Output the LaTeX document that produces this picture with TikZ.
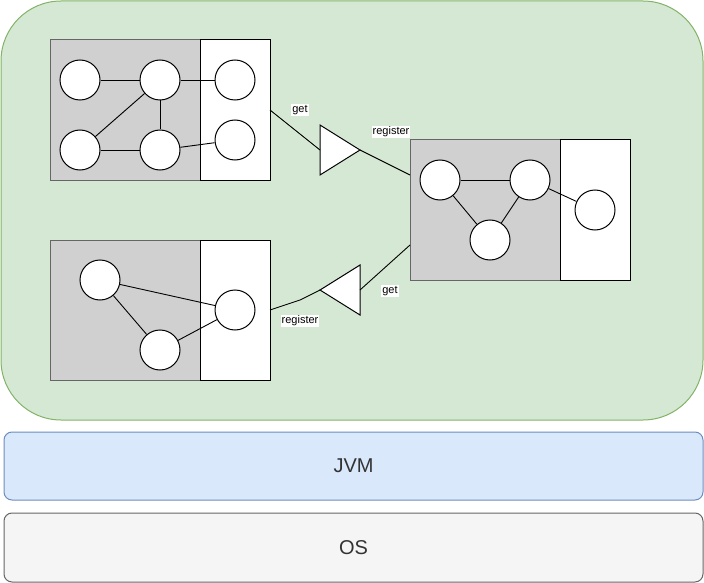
\documentclass[tikz,border=0pt]{standalone}
\usepackage{fontspec}
\setmainfont{Liberation Sans}
\definecolor{grnfill}{HTML}{D5E8D4}
\definecolor{grnline}{HTML}{82B366}
\definecolor{bluefill}{HTML}{DAE8FC}
\definecolor{blueline}{HTML}{6C8EBF}
\definecolor{osfill}{HTML}{F5F5F5}
\definecolor{osline}{HTML}{666666}
\definecolor{bundlegray}{HTML}{D0D0D0}
\definecolor{txt}{HTML}{333333}
\tikzset{
  gbox/.style={draw=osline, fill=bundlegray, line width=1pt},
  wbox/.style={draw=black, fill=white, line width=1pt},
  svc/.style={circle, draw=black, fill=white, line width=1pt, minimum size=40pt, inner sep=0pt},
  link/.style={draw=black, line width=0.9pt},
  tri/.style={draw=black, fill=white, line width=1pt},
  lbl/.style={fill=white, inner sep=1pt, font=\fontsize{11}{13}\selectfont},
  layer/.style={rounded corners=8pt, line width=1pt, text=txt, font=\fontsize{20}{24}\selectfont},
}
\begin{document}
\begin{tikzpicture}[x=1pt,y=-1pt]
\useasboundingbox (0,0) rectangle (704,583);
% container
\draw[fill=grnfill, draw=grnline, line width=1pt, rounded corners=60pt] (1,1) rectangle (703,420);
% layers
\node[layer, draw=blueline, fill=bluefill, minimum width=699pt, minimum height=68pt] (jvm) at (353.5,466) {JVM};
\node[layer, draw=osline, fill=osfill, minimum width=699pt, minimum height=69pt] (os) at (353.5,547.5) {OS};

% bundle 1
\draw[gbox] (50,40) rectangle (200,180);
\node[wbox, minimum width=70pt, minimum height=140pt, inner sep=0pt] (b1) at (235,110) {};
\node[svc] (a1) at (80,80) {};
\node[svc] (a2) at (160,80) {};
\node[svc] (a3) at (235,80) {};
\node[svc] (a4) at (80,150) {};
\node[svc] (a5) at (160,150) {};
\node[svc] (a6) at (235,140) {};
\draw[link] (a1) -- (a2);
\draw[link] (a2) -- (a3);
\draw[link] (a2) -- (a4);
\draw[link] (a2) -- (a5);
\draw[link] (a4) -- (a5);
\draw[link] (a5) -- (a6);

% bundle 2
\draw[gbox] (50,240) rectangle (200,380);
\node[wbox, minimum width=70pt, minimum height=140pt, inner sep=0pt] (b2) at (235,310) {};
\node[svc] (p1) at (100,280) {};
\node[svc] (p2) at (160,350) {};
\node[svc] (p3) at (235,310) {};
\draw[link] (p1) -- (p2);
\draw[link] (p1) -- (p3);
\draw[link] (p2) -- (p3);

% bundle 3
\draw[gbox] (410,140) rectangle (560,280);
\node[wbox, minimum width=70pt, minimum height=140pt, inner sep=0pt] (b3) at (595,210) {};
\node[svc] (c1) at (440,180) {};
\node[svc] (c2) at (530,180) {};
\node[svc] (c3) at (490,240) {};
\node[svc] (c4) at (595,210) {};
\draw[link] (c1) -- (c2);
\draw[link] (c1) -- (c3);
\draw[link] (c3) -- (c2);
\draw[link] (c2) -- (c4);

% triangles
\draw[tri] (320,125) -- (360,150) -- (320,175) -- cycle;
\coordinate (t1in) at (320,150);
\coordinate (t1out) at (360,150);
\draw[tri] (360,265) -- (320,290) -- (360,315) -- cycle;
\coordinate (t2in) at (360,290);
\coordinate (t2out) at (320,290);

% connectors
\coordinate (e1) at (270,110);
\coordinate (e2) at (410,175);
\coordinate (e3) at (410,245);
\coordinate (e4) at (270,310);
\coordinate (k1) at (300,300);
\draw[link] (e1) -- (t1in);
\draw[link] (t1out) -- (e2);
\draw[link] (e3) -- (t2in);
\draw[link] (t2out) -- (k1) -- (e4);

% labels
\node[lbl] (l1) at (300,110) {get};
\node[lbl] (l2) at (391,132) {register};
\node[lbl] (l3) at (390,291) {get};
\node[lbl] (l4) at (300,321) {register};
\end{tikzpicture}
\end{document}
